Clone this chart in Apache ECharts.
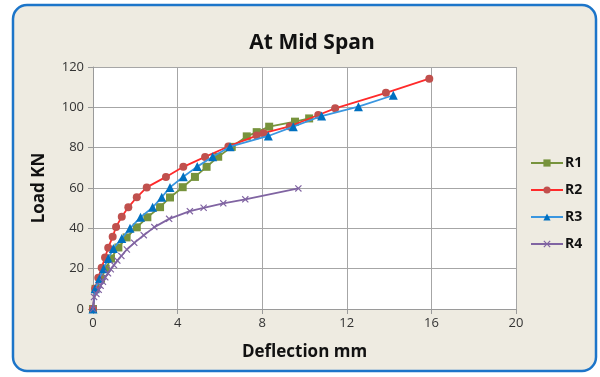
<!DOCTYPE html>
<html>
<head>
<meta charset="utf-8">
<script src="https://cdn.jsdelivr.net/npm/echarts@6/dist/echarts.min.js"></script>
<style>
html,body{margin:0;padding:0;background:#ffffff;}
#c{width:600px;height:377px;}
</style>
</head>
<body>
<div id="c"></div>
<script>
// Data
const seriesNames = ['R1', 'R2', 'R3', 'R4'];
const r1Deflection = [0, 0.12, 0.38, 0.6, 0.85, 1.2, 1.59, 2.07, 2.57, 3.17, 3.64, 4.24, 4.82, 5.37, 5.92, 6.56, 7.27, 7.74, 8.33, 9.55, 10.22];
const r1Load       = [0, 10, 15, 20, 25, 30.5, 35.5, 40.5, 45.5, 50.5, 55.3, 60.4, 65.5, 70.5, 75.5, 80.4, 85.6, 87.7, 90.4, 92.9, 94.5];
const r2Deflection = [0, 0.1, 0.25, 0.41, 0.57, 0.72, 0.93, 1.09, 1.36, 1.67, 2.07, 2.54, 3.45, 4.27, 5.3, 6.4, 7.74, 8.06, 9.3, 10.65, 11.45, 13.85, 15.9];
const r2Load       = [0, 10, 15.5, 20.5, 25.5, 30.4, 35.8, 40.7, 45.7, 50.4, 55.4, 60.3, 65.5, 70.5, 75.4, 80.6, 86, 87.2, 90.5, 96.2, 99.5, 107.2, 114.2];
const r3Deflection = [0, 0.1, 0.3, 0.5, 0.72, 0.96, 1.36, 1.75, 2.25, 2.82, 3.25, 3.64, 4.27, 4.93, 5.66, 6.48, 8.29, 9.47, 10.81, 12.55, 14.2];
const r3Load       = [0, 10, 15, 20, 25, 30, 35, 40, 45.5, 50.4, 55.4, 60.3, 65.6, 70.6, 75.5, 80.5, 85.8, 90.4, 95.7, 100.3, 106];
const r4Deflection = [0, 0.05, 0.16, 0.27, 0.36, 0.47, 0.58, 0.71, 0.84, 0.99, 1.15, 1.34, 1.6, 1.95, 2.4, 2.9, 3.6, 4.58, 5.23, 6.16, 7.2, 9.71];
const r4Load       = [0, 6, 7.5, 9.5, 11.5, 13.5, 15.7, 17.7, 19.7, 21.8, 24, 26.3, 29.5, 32.8, 36.6, 40.6, 44.7, 48.5, 50.2, 52.4, 54.4, 59.8];
const xTicks = [0, 4, 8, 12, 16, 20];
const yTicks = [0, 20, 40, 60, 80, 100, 120];

const pairs = (xs, ys) => xs.map((v, i) => [v, ys[i]]);
const crossPath = 'path://M0,1.2L1.2,0L5,3.8L8.8,0L10,1.2L6.2,5L10,8.8L8.8,10L5,6.2L1.2,10L0,8.8L3.8,5Z';

const chart = echarts.init(document.getElementById('c'), null, {renderer: 'canvas'});
const font = '"Open Sans", Lato, "Liberation Sans", sans-serif';

chart.setOption({
  animation: false,
  backgroundColor: '#ffffff',
  textStyle: {fontFamily: font},
  graphic: [{
    type: 'rect',
    shape: {x: 13, y: 5, width: 583, height: 366, r: 14},
    style: {fill: '#EEEBE1', stroke: '#1C75C9', lineWidth: 2.5},
    z: -10, silent: true
  }],
  title: {
    text: 'At Mid Span',
    left: 307, top: 28, textAlign: 'center',
    textStyle: {fontFamily: font, fontSize: 21, fontWeight: 'bold', color: '#111111'}
  },
  legend: {
    orient: 'vertical',
    left: 525, top: 151,
    itemWidth: 32, itemHeight: 9, itemGap: 13,
    textStyle: {fontFamily: font, fontSize: 14, fontWeight: 'bold', color: '#111111', padding: [0, 0, 0, -3]},
    data: seriesNames
  },
  grid: {left: 93, right: 84, top: 67, bottom: 68, backgroundColor: '#ffffff', show: true, borderWidth: 0},
  xAxis: {
    type: 'value', min: xTicks[0], max: xTicks[xTicks.length - 1], interval: 4,
    name: 'Deflection mm', nameLocation: 'middle', nameGap: 35,
    nameTextStyle: {fontFamily: font, fontSize: 17, fontWeight: 'bold', color: '#111111'},
    axisLine: {show: true, lineStyle: {color: '#9A9A9A', width: 1}},
    axisTick: {show: true, length: 5, lineStyle: {color: '#9A9A9A'}},
    axisLabel: {fontFamily: font, fontSize: 13, color: '#333333', margin: 8},
    splitLine: {show: true, lineStyle: {color: '#A6A6A6', width: 1}}
  },
  yAxis: {
    type: 'value', min: yTicks[0], max: yTicks[yTicks.length - 1], interval: 20,
    name: 'Load KN', nameLocation: 'middle', nameGap: 45,
    nameTextStyle: {fontFamily: font, fontSize: 17, fontWeight: 'bold', color: '#111111'},
    axisLine: {show: true, lineStyle: {color: '#9A9A9A', width: 1}},
    axisTick: {show: true, length: 5, lineStyle: {color: '#9A9A9A'}},
    axisLabel: {fontFamily: font, fontSize: 13, color: '#333333', margin: 9},
    splitLine: {show: true, lineStyle: {color: '#A6A6A6', width: 1}}
  },
  series: [
    {
      name: 'R1', type: 'line', data: pairs(r1Deflection, r1Load),
      symbol: 'rect', symbolSize: 8,
      lineStyle: {color: '#77933C', width: 1.8},
      itemStyle: {color: '#77933C'}, z: 2
    },
    {
      name: 'R2', type: 'line', data: pairs(r2Deflection, r2Load),
      symbol: 'circle', symbolSize: 8,
      lineStyle: {color: '#FF2A2A', width: 1.8},
      itemStyle: {color: '#C0504D'}, z: 3
    },
    {
      name: 'R3', type: 'line', data: pairs(r3Deflection, r3Load),
      symbol: 'triangle', symbolSize: 9,
      lineStyle: {color: '#3A96E0', width: 1.8},
      itemStyle: {color: '#0070C0'}, z: 4
    },
    {
      name: 'R4', type: 'line', data: pairs(r4Deflection, r4Load),
      symbol: crossPath, symbolSize: 7,
      lineStyle: {color: '#8064A2', width: 1.8},
      itemStyle: {color: '#8064A2'}, z: 5
    }
  ]
});
</script>
</body>
</html>
